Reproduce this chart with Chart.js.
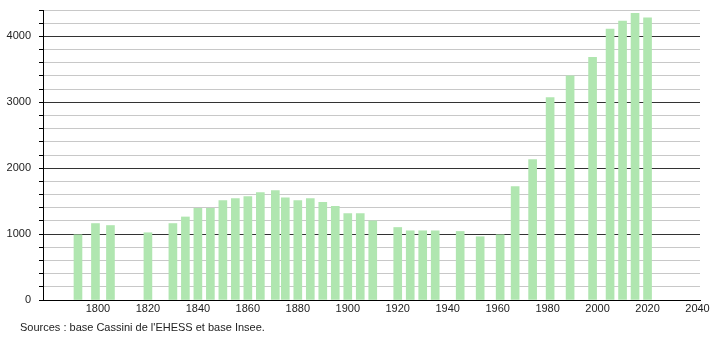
<!DOCTYPE html>
<html>
<head>
<meta charset="utf-8">
<script src="https://cdn.jsdelivr.net/npm/chart.js@4.4.0/dist/chart.umd.min.js"></script>
<style>
  body { margin: 0; background: #fff; }
  #wrap { position: relative; width: 710px; height: 340px; }
  #src { position: absolute; left: 20px; top: 321px; font: 11px "Liberation Sans", Arial, sans-serif; color: #222; }
</style>
</head>
<body>
<div id="wrap">
  <canvas id="popChart" width="710" height="340"></canvas>
  <div id="src">Sources : base Cassini de l'EHESS et base Insee.</div>
</div>
<script>
const years = [1793, 1800, 1806, 1821, 1831, 1836, 1841, 1846, 1851, 1856, 1861, 1866, 1872, 1876,
  1881, 1886, 1891, 1896, 1901, 1906, 1911, 1921, 1926, 1931, 1936, 1946, 1954, 1962, 1968,
  1975, 1982, 1990, 1999, 2006, 2011, 2016, 2021];
const population = [990, 1160, 1130, 1020, 1160, 1260, 1390, 1390, 1510, 1540, 1570, 1630, 1660, 1550,
  1510, 1540, 1480, 1420, 1310, 1310, 1200, 1100, 1050, 1050, 1050, 1040, 960, 990, 1720,
  2130, 3070, 3400, 3680, 4110, 4230, 4350, 4280];

Chart.defaults.font.family = '"Liberation Sans", Arial, sans-serif';
Chart.defaults.font.size = 11;
Chart.defaults.color = "#222";

let ctx = document.getElementById("popChart");

let popChart = new Chart(ctx, {
  type: "bar",
  data: {
    datasets: [
      {
        label: "Population",
        data: years.map((y, i) => ({ x: y, y: population[i] })),
        backgroundColor: "#b0e6b0",
        barThickness: 8,
      },
    ],
  },
  options: {
    responsive: false,
    animation: false,
    layout: { padding: { left: 0, right: 10, top: 10, bottom: 20 } },
    plugins: {
      legend: { display: false },
      tooltip: { enabled: false },
    },
    scales: {
      x: {
        type: "linear",
        min: 1779,
        max: 2042,
        offset: false,
        grid: { display: false, drawTicks: false },
        border: { color: "#000", width: 1 },
        ticks: {
          stepSize: 20,
          includeBounds: false,
          padding: 2,
          labelOffset: 2.5,
          maxRotation: 0,
          autoSkip: false,
          callback: (v) => (v >= 1800 && v % 20 === 0 ? v : ""),
        },
        afterFit: (scale) => { scale.height = 20; scale.paddingRight = 0; scale.paddingLeft = 0; },
      },
      y: {
        min: 0,
        max: 4400,
        grid: {
          color: (c) => (c.tick && c.tick.value % 1000 === 0 ? "#333" : "#c8c8c8"),
          tickColor: "#000",
          tickLength: 4,
        },
        border: { color: "#000", width: 1 },
        ticks: {
          stepSize: 200,
          padding: 8,
          autoSkip: false,
          callback: (v) => (v % 1000 === 0 ? v : ""),
        },
        afterFit: (scale) => { scale.width = 43; scale.paddingTop = 0; scale.paddingBottom = 0; },
      },
    },
  },
});
</script>
</body>
</html>
